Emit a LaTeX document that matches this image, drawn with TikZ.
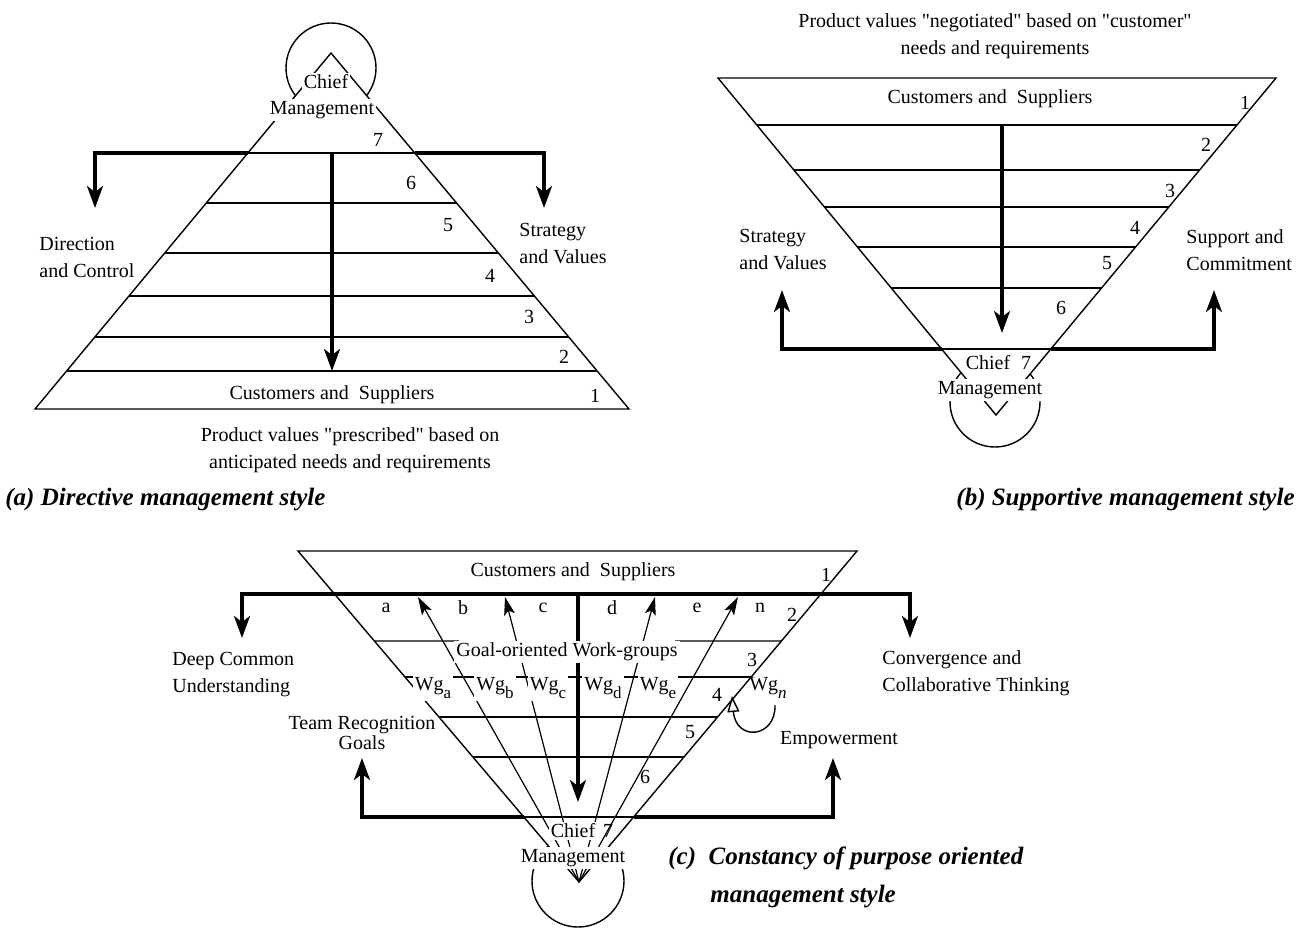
\documentclass[tikz,border=0pt]{standalone}
\usepackage{fontspec}
\setmainfont{Liberation Serif}
\usetikzlibrary{arrows.meta,calc}
\newcommand{\wg}[1]{Wg\raisebox{-0.4em}{\fontsize{8.5}{9}\selectfont #1}}
\tikzset{
  layer/.style = {line width=0.7pt},
  flow/.style = {line width=1.6pt, -{Stealth[length=11pt,width=8pt,inset=3pt]}},
  biflow/.style = {line width=1.6pt, {Stealth[length=11pt,width=8pt,inset=3pt]}-{Stealth[length=11pt,width=8pt,inset=3pt]}},
  fan/.style = {line width=0.6pt, -{Stealth[length=9pt,width=5.5pt,inset=2pt]}},
  txt/.style = {font=\fontsize{10}{13.5}\selectfont, inner sep=1pt},
  mask/.style = {txt, fill=white},
  caption/.style = {font=\fontsize{12.5}{14}\selectfont\bfseries\itshape, inner sep=0pt}
}

\begin{document}
\begin{tikzpicture}[x=0.5pt,y=-0.5pt]
  \useasboundingbox (0,0) rectangle (1300,928);
  % (a) directive
  \coordinate (aA) at (331,53);
  \coordinate (aBL) at (35,409);
  \coordinate (aBR) at (629,409);
  \draw[layer] (331,68) circle (45);
  \draw[layer,fill=white] (aA) -- (aBL) -- (aBR) -- cycle;
  \foreach \y in {153,203,253,296,337,371} {%
    \pgfmathsetmacro{\t}{(\y-53)/356}
    \draw[layer] ($(aA)!\t!(aBL)$) coordinate (aL\y) -- ($(aA)!\t!(aBR)$) coordinate (aR\y);
  }
  \coordinate (aDL) at (95,208);
  \coordinate (aDR) at (544,208);
  \coordinate (aTop) at (332,153);
  \draw[flow] (aL153) -| (aDL);
  \draw[flow] (aR153) -| (aDR);
  \draw[flow] (aTop) -- (aTop |- aL371);
  \node[mask] (aChief) at (326,82) {Chief};
  \node[mask] (aMgmt) at (322,110) {Management};
  \foreach \n/\x/\y in {7/378/140,6/411/183,5/448/225,4/490/276,3/529/317,2/564/357,1/595/396} {%
    \node[txt] (a\n) at (\x,\y) {\n};
  }
  \node[txt] (aCS) at (332,395) {Customers and\ \ Suppliers};
  \node[txt,align=left,anchor=west] (aDir) at (37,257) {Direction\\and Control};
  \node[txt,align=left,anchor=west] (aStr) at (517,244) {Strategy\\and Values};
  \node[txt,align=center] (aProd) at (350,450) {Product values \textquotedbl prescribed\textquotedbl{} based on\\anticipated needs and requirements};
  \node[caption,anchor=west] (aCap) at (5,500) {(a) Directive management style};
  % (b) supportive
  \coordinate (bA) at (996,415);
  \coordinate (bTL) at (718,78);
  \coordinate (bTR) at (1276,78);
  \draw[layer] (995,402) circle (45);
  \draw[layer,fill=white] (bTL) -- (bTR) -- (bA) -- cycle;
  \foreach \y in {125,170,207,247,288,349} {%
    \pgfmathsetmacro{\t}{(\y-78)/337}
    \draw[layer] ($(bTL)!\t!(bA)$) coordinate (bL\y) -- ($(bTR)!\t!(bA)$) coordinate (bR\y);
  }
  \coordinate (bUL) at (782,290);
  \coordinate (bUR) at (1214,290);
  \coordinate (bTop) at (1002,125);
  \draw[flow] (bL349) -| (bUL);
  \draw[flow] (bR349) -| (bUR);
  \draw[flow] (bTop) -- (1002,333);
  \node[txt] (bCS) at (990,99) {Customers and\ \ Suppliers};
  \node[txt] (bChief) at (988,363) {Chief};
  \node[mask] (bMgmt) at (990,390) {Management};
  \foreach \n/\x/\y in {1/1245/103,2/1206/145,3/1170/191,4/1135/228,5/1107/263,6/1061/308,7/1026/363} {%
    \node[txt] (b\n) at (\x,\y) {\n};
  }
  \node[txt,align=center] (bProd) at (995,36) {Product values \textquotedbl negotiated\textquotedbl{} based on \textquotedbl customer\textquotedbl\\needs and requirements};
  \node[txt,align=left,anchor=west] (bStr) at (737,250) {Strategy\\and Values};
  \node[txt,align=left,anchor=west] (bSup) at (1184,250) {Support and\\Commitment};
  \node[caption,anchor=east] (bCap) at (1295,500) {(b) Supportive management style};
  % (c) constancy of purpose
  \coordinate (cA) at (579,882);
  \coordinate (cTL) at (298,551);
  \coordinate (cTR) at (857,551);
  \draw[layer] (578,881) circle (46);
  \draw[layer,fill=white] (cTL) -- (cTR) -- (cA) -- cycle;
  \foreach \y in {641,677,717,757,817} {%
    \pgfmathsetmacro{\t}{(\y-551)/331}
    \coordinate (cL\y) at ($(cTL)!\t!(cA)$);
    \coordinate (cR\y) at ($(cTR)!\t!(cA)$);
  }
  \foreach \y in {677,717,757,817} \draw[layer] (cL\y) -- (cR\y);
  \draw[layer] (cL641) -- (459,641);
  \draw[layer] (675,641) -- (cR641);
  \coordinate (cDL) at (242,638);
  \coordinate (cDR) at (910,638);
  \draw[biflow] (cDL) -- ++(0,-44) -| (cDR);
  \coordinate (cUL) at (362,758);
  \coordinate (cUR) at (833,758);
  \draw[flow] (cL817) -| (cUL);
  \draw[flow] (cR817) -| (cUR);
  % work-group arrows
  \foreach \x [count=\i] in {418,505,655,738} {%
    \coordinate (cF\i) at (\x,597);
    \draw[fan] (cA) -- (cF\i);
  }
  \coordinate (cTop) at (578,594);
  \draw[flow] (cTop) -- (578,802);
  \node[txt] (cCS) at (573,572) {Customers and\ \ Suppliers};
  \foreach \l/\x in {a/386,b/463,c/543,d/612,e/697,n/760} {%
    \node[txt] (c\l) at (\x,608) {\l};
  }
  \foreach \n/\x/\y in {1/826/575,2/792/615,3/752/660,4/717/695,5/690/732,6/645/777,7/608/831} {%
    \node[txt] (c\n) at (\x,\y) {\n};
  }
  \node[mask] (cGoal) at (567,652) {Goal-oriented Work-groups};
  \foreach \l/\x in {a/433,b/495,c/548,d/603,e/658} {%
    \node[mask] (cWg\l) at (\x,688) {\wg{\l}};
  }
  \node[txt] (cWgn) at (768,688) {\wg{\textit{n}}};
  \coordinate (cLoop) at (775,705);
  \coordinate (cLoopEnd) at (732,696);
  \draw[layer,-{Triangle[open,length=8pt,width=6pt]}] (cLoop) .. controls (776,738) and (736,742) .. (cLoopEnd);
  \node[mask] (cChief) at (573,831) {Chief};
  \node[mask] (cMgmt) at (573,858) {Management};
  \node[txt,align=left,anchor=west] (cDeep) at (170,675) {Deep Common\\Understanding};
  \node[txt,align=left,anchor=west] (cConv) at (880,673) {Convergence and\\Collaborative Thinking};
  \node[txt,align=center,font=\fontsize{10}{8.5}\selectfont] (cTeam) at (362,733) {Team Recognition\\Goals};
  \node[txt] (cEmp) at (839,740) {Empowerment};
  \node[caption,anchor=west] (cCap) at (668,858) {(c)\ \ Constancy of purpose oriented};
  \node[caption,anchor=west] (cCap2) at (710,897) {management style};
\end{tikzpicture}
\end{document}
